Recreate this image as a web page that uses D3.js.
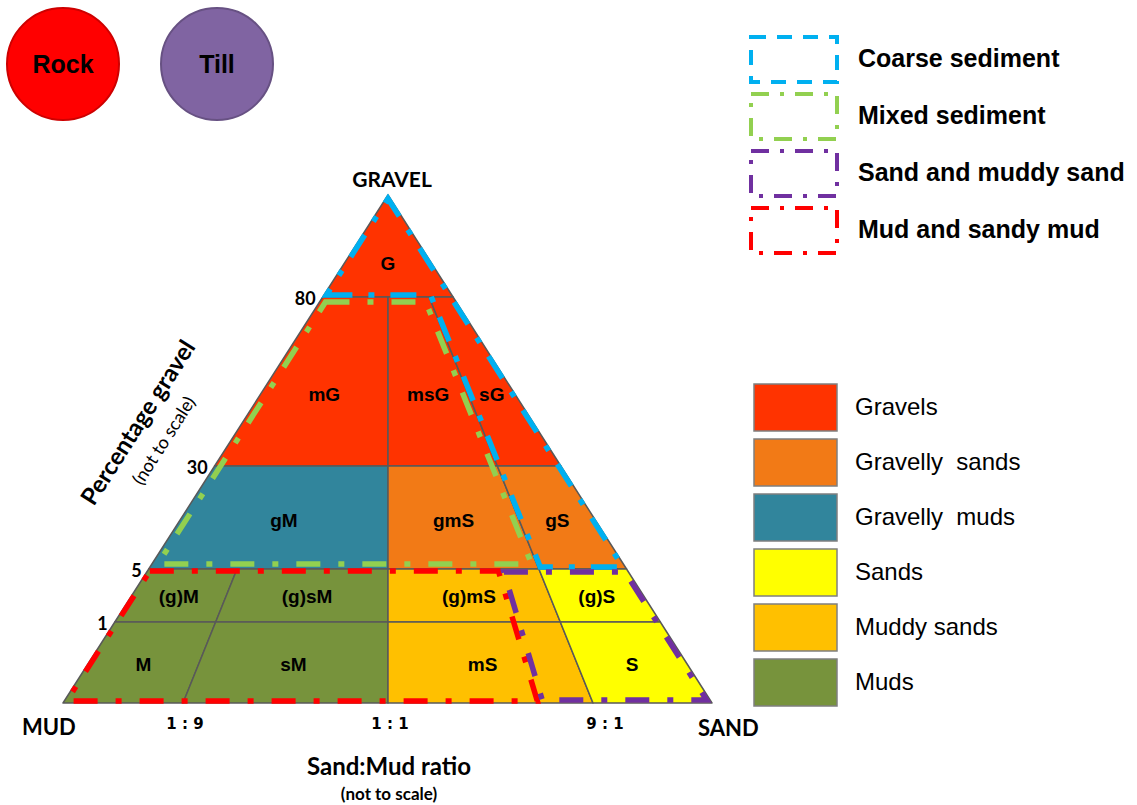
<!DOCTYPE html>
<html>
<head>
<meta charset="utf-8">
<script src="https://cdn.jsdelivr.net/npm/d3@7"></script>
<style>
  body { margin: 0; background: #fff; }
  svg { display: block; }
</style>
</head>
<body>
<script>
// ---- data ----
const gravelLevels = [0, 1, 5, 30, 80, 100];          // % gravel boundaries
const gravelTicks = ["1", "5", "30", "80"];
const sandFractions = [0, 0.1, 0.5, 0.8, 0.9, 1];       // sand / (sand + mud)
const ratioTicks = [0.1, 0.5, 0.9];
const ratioLabels = ["1 : 9", "1 : 1", "9 : 1"];

const classNames = ["Gravels", "Gravelly  sands", "Gravelly  muds", "Sands", "Muddy sands", "Muds"];
const classColors = ["#ff3300", "#f27a16", "#31859c", "#ffff00", "#ffc000", "#77933c"];

// [label, class index, sand from, sand to, gravel from, gravel to]
const regions = [
  ["G", 0, 0, 1, 80, 100],
  ["mG", 0, 0, 0.5, 30, 80],
  ["msG", 0, 0.5, 0.9, 30, 80],
  ["sG", 0, 0.9, 1, 30, 80],
  ["gM", 2, 0, 0.5, 5, 30],
  ["gmS", 1, 0.5, 0.9, 5, 30],
  ["gS", 1, 0.9, 1, 5, 30],
  ["(g)M", 5, 0, 0.1, 1, 5],
  ["(g)sM", 5, 0.1, 0.5, 1, 5],
  ["(g)mS", 4, 0.5, 0.9, 1, 5],
  ["(g)S", 3, 0.9, 1, 1, 5],
  ["M", 5, 0, 0.1, 0, 1],
  ["sM", 5, 0.1, 0.5, 0, 1],
  ["mS", 4, 0.5, 0.9, 0, 1],
  ["S", 3, 0.9, 1, 0, 1]
];

const groupNames = ["Coarse sediment", "Mixed sediment", "Sand and muddy sand", "Mud and sandy mud"];
const groupColors = ["#00b0f0", "#92d050", "#7030a0", "#ff0000"];
// outlines as [sand, gravel] corners
const groupOutlines = [
  [[0, 80], [0.9, 80], [0.9, 5], [1, 5], [1, 100]],
  [[0, 80], [0.9, 80], [0.9, 5], [0, 5]],
  [[0.8, 5], [1, 5], [1, 0], [0.8, 0]],
  [[0, 5], [0.8, 5], [0.8, 0], [0, 0]]
];
const otherClasses = ["Rock", "Till"];
const otherColors = ["#ff0000", "#8064a2"];

// ---- layout ----
const W = 1137, H = 805;
const apex = {x: 388, y: 195};
const baseY = 703;

const y = d3.scaleLinear().domain(gravelLevels).range([703, 622, 569, 466, 297, 195]);
const xBase = d3.scaleLinear().domain(sandFractions).range([63, 183, 388, 540, 593, 712]);

function pt(s, g) {
  const yy = y(g);
  const x0 = xBase(s);
  return [apex.x + (x0 - apex.x) * (yy - apex.y) / (baseY - apex.y), yy];
}

// move every edge of a polygon inwards by d pixels
function inset(poly, d) {
  const n = poly.length;
  const lines = [];
  for (let i = 0; i < n; i++) {
    const a = poly[i], b = poly[(i + 1) % n];
    let dx = b[0] - a[0], dy = b[1] - a[1];
    const len = Math.hypot(dx, dy);
    dx /= len; dy /= len;
    let nx = -dy, ny = dx;
    const mx = (a[0] + b[0]) / 2, my = (a[1] + b[1]) / 2;
    if (!d3.polygonContains(poly, [mx + nx * 2, my + ny * 2])) { nx = -nx; ny = -ny; }
    lines.push({p: [a[0] + nx * d, a[1] + ny * d], v: [dx, dy]});
  }
  const out = [];
  for (let i = 0; i < n; i++) {
    const L1 = lines[(i - 1 + n) % n], L2 = lines[i];
    const den = L1.v[0] * L2.v[1] - L1.v[1] * L2.v[0];
    const t = ((L2.p[0] - L1.p[0]) * L2.v[1] - (L2.p[1] - L1.p[1]) * L2.v[0]) / den;
    out.push([L1.p[0] + L1.v[0] * t, L1.p[1] + L1.v[1] * t]);
  }
  return out;
}

const svg = d3.select("body").append("svg").attr("width", W).attr("height", H);
svg.append("rect").attr("width", W).attr("height", H).attr("fill", "#fff");

const line = d3.line().curve(d3.curveLinearClosed);

// Rock / Till
const circ = svg.append("g");
otherClasses.forEach(function(d, i) {
  const cx = 63 + i * 154;
  circ.append("circle").attr("cx", cx).attr("cy", 64).attr("r", 56)
    .attr("fill", otherColors[i])
    .attr("stroke", d3.color(otherColors[i]).darker(0.6))
    .attr("stroke-width", 2);
  circ.append("text").attr("x", cx).attr("y", 73).attr("text-anchor", "middle")
    .attr("font-family", "Liberation Sans, Arial, sans-serif").attr("font-weight", "bold")
    .attr("font-size", 25).text(d);
});

// regions
const regionPolys = regions.map(function(r) {
  return [pt(r[2], r[4]), pt(r[3], r[4]), pt(r[3], r[5]), pt(r[2], r[5])];
});

svg.append("g").selectAll("path").data(regions).join("path")
  .attr("d", (r, i) => line(regionPolys[i]))
  .attr("fill", r => classColors[r[1]])
  .attr("stroke", "#595959").attr("stroke-width", 1.5).attr("stroke-linejoin", "round");

// dashed group outlines
const insets = [2, 5, 3, 2];
const outlineOrder = [0, 1, 3, 2];
svg.append("g").selectAll("path").data(outlineOrder).join("path")
  .attr("d", i => line(inset(groupOutlines[i].map(p => pt(p[0], p[1])), insets[i])))
  .attr("fill", "none")
  .attr("stroke", i => groupColors[i])
  .attr("stroke-width", 5.5)
  .attr("stroke-dasharray", i => i === 0 ? "26,16,6,16" : "24,18,6,18");

// region labels
svg.append("g").selectAll("text").data(regions).join("text")
  .attr("x", (r, i) => d3.polygonCentroid(regionPolys[i])[0])
  .attr("y", (r, i) => d3.polygonCentroid(regionPolys[i])[1] + 7)
  .attr("text-anchor", "middle")
  .attr("font-family", "Liberation Sans, Arial, sans-serif").attr("font-weight", "bold")
  .attr("font-size", 19)
  .text(r => r[0]);

// gravel ticks
svg.append("g").selectAll("text").data(gravelTicks).join("text")
  .attr("x", d => pt(0, +d)[0] - 7)
  .attr("y", d => pt(0, +d)[1] + 8)
  .attr("text-anchor", "end")
  .attr("font-family", "Lato, sans-serif").attr("font-weight", "bold")
  .attr("font-size", 18).text(d => d);

// ratio ticks
svg.append("g").selectAll("text").data(ratioTicks).join("text")
  .attr("x", d => xBase(d) + (d > 0.5 ? 12 : 2))
  .attr("y", 729)
  .attr("text-anchor", "middle")
  .attr("font-family", "DejaVu Sans, sans-serif").attr("font-weight", "bold")
  .attr("font-size", 15).text((d, i) => ratioLabels[i]);

// corner and axis labels
const lab = svg.append("g").attr("font-family", "Lato, sans-serif").attr("font-weight", "bold").attr("fill", "#000");
lab.append("text").attr("x", 392).attr("y", 187).attr("text-anchor", "middle").attr("font-size", 21).text("GRAVEL");
lab.append("text").attr("x", 22).attr("y", 735).attr("font-size", 22).text("MUD");
lab.append("text").attr("x", 698).attr("y", 736).attr("font-size", 22).text("SAND");
lab.append("text").attr("x", 389).attr("y", 775).attr("text-anchor", "middle").attr("font-size", 24).text("Sand:Mud ratio");
lab.append("text").attr("x", 389).attr("y", 800).attr("text-anchor", "middle").attr("font-size", 17).text("(not to scale)");

const ang = -Math.atan2(baseY - apex.y, apex.x - 63) * 180 / Math.PI;
lab.append("text").attr("transform", `translate(145,427) rotate(${ang})`)
  .attr("text-anchor", "middle").attr("font-size", 24).text("Percentage gravel");
lab.append("text").attr("transform", `translate(169,444) rotate(${ang})`)
  .attr("text-anchor", "middle").attr("font-weight", "normal").attr("font-size", 18).text("(not to scale)");

// sediment group legend
const gl = svg.append("g");
groupNames.forEach(function(d, i) {
  const top = 37 + i * 57;
  gl.append("rect").attr("x", 751).attr("y", top).attr("width", 86).attr("height", 45)
    .attr("fill", "none").attr("stroke", groupColors[i]).attr("stroke-width", 4)
    .attr("stroke-dasharray", i === 0 ? "15,11" : "18,11,4,11");
  gl.append("text").attr("x", 858).attr("y", top + 30)
    .attr("font-family", "Liberation Sans, Arial, sans-serif").attr("font-weight", "bold")
    .attr("font-size", 25).text(d);
});

// class colour legend
const cl = svg.append("g");
classNames.forEach(function(d, i) {
  const top = 384 + i * 55;
  cl.append("rect").attr("x", 754).attr("y", top).attr("width", 83).attr("height", 47)
    .attr("fill", classColors[i]).attr("stroke", "#7f7f7f").attr("stroke-width", 1.5);
  cl.append("text").attr("x", 855).attr("y", top + 31).style("white-space", "pre")
    .attr("font-family", "Liberation Sans, Arial, sans-serif")
    .attr("font-size", 24).text(d);
});
</script>
</body>
</html>
